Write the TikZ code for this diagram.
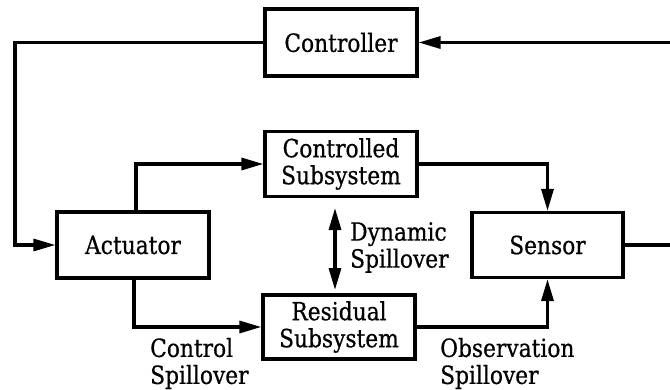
\documentclass[tikz,border=0pt]{standalone}
\usepackage{fontspec}
\setmainfont{DejaVu Serif}[FakeStretch=0.87,FakeBold=0.6]
\usetikzlibrary{arrows.meta}
\begin{document}
\begin{tikzpicture}[x=1pt,y=1pt,
  every node/.style={font=\fontsize{25}{27}\selectfont},
  blk/.style={draw, line width=3.2pt, minimum width=152pt, minimum height=66pt, inner sep=0pt, align=center},
  conn/.style={line width=3.2pt},
  arr/.style={conn, -{Triangle[length=22pt,width=12pt]}},
  lbl/.style={align=left, anchor=west, inner sep=0pt}]
\useasboundingbox (0,0) rectangle (670,389);
\node[blk, minimum height=67pt] (ctl) at (341,346.5) {Controller};
\node[blk, minimum height=65pt] (cs) at (341,225) {Controlled\\Subsystem};
\node[blk] (act) at (133,144) {Actuator};
\node[blk, minimum width=151pt, minimum height=65pt] (sen) at (547.5,144) {Sensor};
\node[blk, minimum height=64pt] (res) at (339,62) {Residual\\Subsystem};
\coordinate (lc) at (15,346.5);
\coordinate (rin) at (672,346.5);
\coordinate (rout) at (672,144);
\coordinate (da) at (335,181);
\coordinate (db) at (335,99);
\draw[arr] (ctl.west) -- (lc) |- (act.west);
\draw[arr] (rin) -- (ctl.east);
\draw[arr] ([xshift=3pt]act.north) |- (cs.west);
\draw[arr] (cs.east) -| (sen.north);
\draw[conn] (sen.east) -- (rout);
\draw[arr] ([xshift=1pt]act.south) |- (res.west);
\draw[arr] (res.east) -| (sen.south);
\draw[conn, {Triangle[length=22pt,width=12pt]}-{Triangle[length=22pt,width=12pt]}] (da) -- (db);
\node[lbl] (dyn) at (350,141.5) {Dynamic\\Spillover};
\node[lbl] (csp) at (150,25.5) {Control\\Spillover};
\node[lbl] (osp) at (440,25.5) {Observation\\Spillover};
\end{tikzpicture}
\end{document}
